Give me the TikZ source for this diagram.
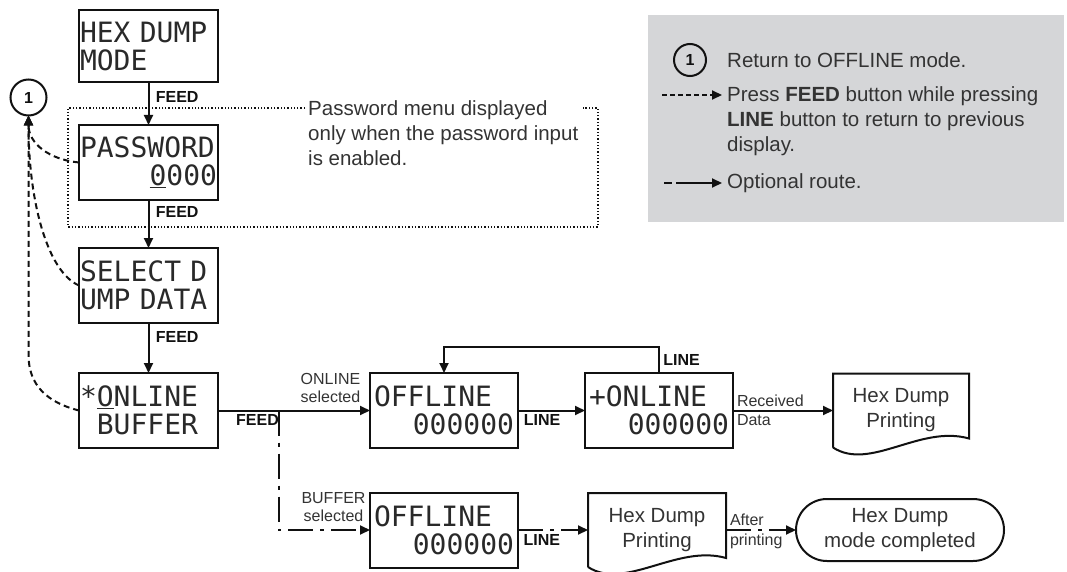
\documentclass[tikz,border=0pt]{standalone}
\usepackage{fontspec}
\setmainfont{Liberation Sans}
\newfontfamily\lcdfont{DejaVu Sans Mono}
\usetikzlibrary{positioning,arrows.meta,shapes.misc,calc}
\definecolor{ink}{HTML}{111111}
\definecolor{txt}{HTML}{333333}
\definecolor{keygrey}{HTML}{D5D6D8}

\newcommand{\bigtext}{\fontsize{20.5}{25}\selectfont}
\newcommand{\smalltext}{\fontsize{16}{18}\selectfont}
\newcommand{\lcdtext}{\lcdfont\fontsize{28}{28}\selectfont}
\newcommand{\rpart}[1]{\hspace*{\stretch{1}}#1}

\begin{document}
\begin{tikzpicture}[
  x=1pt, y=-1pt,
  lcd/.style={draw=ink, line width=2pt, outer sep=0pt, minimum width=139pt, minimum height=75pt, text width=137pt, align=left, inner sep=0pt, font=\lcdtext, text=ink!90},
  wide/.style={lcd, minimum width=148pt, text width=140pt},
  paper/.style={outer sep=0pt, minimum width=136pt, minimum height=74pt, align=center, font=\bigtext, text=txt, inner sep=0pt},
  term/.style={rounded rectangle, draw=ink, line width=2pt, outer sep=0pt, minimum width=208pt, minimum height=62pt, align=center, font=\bigtext, text=txt, inner sep=0pt},
  key/.style={font=\smalltext\bfseries, text=ink},
  tag/.style={font=\smalltext, text=txt, align=center, inner sep=3pt},
  arrow/.style={-{Triangle[length=10pt,width=9pt]}, line width=2pt, ink},
  back/.style={arrow, dash pattern=on 6pt off 4pt},
  optional/.style={arrow, dash pattern=on 25pt off 7pt on 4pt off 7pt},
  circ/.style={circle, draw=ink, line width=2pt, outer sep=0pt, minimum size=36pt, inner sep=0pt, font=\smalltext\bfseries, text=ink}
]
  \useasboundingbox (0,0) rectangle (1067,572);

  % legend
  \node[fill=keygrey, minimum width=416pt, minimum height=207pt, anchor=north west, inner sep=0pt] (keybox) at (648,15) {};
  \node[circ, minimum size=32pt] (k1) at (690,60) {1};
  \node[font=\bigtext, text=txt, anchor=west, inner sep=0pt] (k1t) at (727,60) {Return to OFFLINE mode.};
  \node[font=\bigtext, text=txt, anchor=west, align=left, inner sep=0pt] (k2t) at (727,121) {Press \textbf{FEED} button while pressing\\\textbf{LINE} button to return to previous\\display.};
  \node[font=\bigtext, text=txt, anchor=west, inner sep=0pt] (k3t) at (727,183) {Optional route.};
  \coordinate (k2a) at (662,95);
  \coordinate (k2b) at (722,95);
  \coordinate (k3a) at (664,183);
  \coordinate (k3b) at (722,183);
  \draw[back, dash pattern=on 5pt off 3pt] (k2a) -- (k2b);
  \draw[optional, dash pattern=on 8pt off 4pt on 60pt off 4pt] (k3a) -- (k3b);

  % display column
  \node[lcd, minimum height=72pt] (hex) at (148.5,46) {HEX DUMP\\MODE};
  \node[lcd, below=43pt of hex] (pw) {PASSWORD\\\rpart{\underline{0}000}};
  \node[lcd, below=48pt of pw] (sel) {SELECT D\\UMP DATA};
  \node[lcd, below=50pt of sel] (onl) {*\underline{O}NLINE\\\phantom{*}BUFFER};

  % password frame
  \node[font=\bigtext, text=txt, anchor=west, align=left, inner sep=0pt] (pwnote) at (308,133) {Password menu displayed\\only when the password input\\is enabled.};
  \draw[dotted, line width=1.3pt, ink] (305,108) -- (68,108) -- (68,227) -- (598,227) -- (598,108) -- (583,108);

  \draw[arrow] (hex) -- node[key, right, xshift=3pt, pos=0.35] {FEED} (pw);
  \draw[arrow] (pw) -- node[key, right, xshift=3pt, pos=0.25] {FEED} (sel);
  \draw[arrow] (sel) -- node[key, right, xshift=3pt, pos=0.28] {FEED} (onl);

  % back to offline
  \node[circ] (ret) at (28.5,97.5) {1};
  \coordinate (bend) at (28.5,355);
  \draw[back] (pw.west) .. controls +(-30,-3) and +(0,28) .. (ret.south);
  \draw[back] (sel.west) .. controls +(-32,-14) and +(0,85) .. (ret.south);
  \draw[back] (onl.west) .. controls +(-32,-8) and +(0,30) .. (bend) -- (ret.south);

  % online route
  \node[wide, right=152pt of onl] (off1) {OFFLINE\\\rpart{000000}};
  \node[wide, right=67pt of off1] (onl2) {+ONLINE\\\rpart{000000}};
  \node[paper, right=100pt of onl2] (prt1) {Hex Dump\\Printing};

  % buffer route
  \node[wide, below=44.5pt of off1] (off2) {OFFLINE\\\rpart{000000}};
  \node[paper, minimum width=138pt, right=70pt of off2] (prt2) {Hex Dump\\Printing};
  \node[term, right=70pt of prt2] (done) {Hex Dump\\mode completed};

  \foreach \p in {prt1,prt2}
    \draw[line width=2pt, ink] (\p.south west) -- (\p.north west) -- (\p.north east) -- ([yshift=9pt]\p.south east) .. controls +(-49,-14) and +(37,24) .. (\p.south west);

  \draw[arrow] (onl) -- node[key, below, pos=0.26] {FEED} node[tag, above=4pt, pos=0.74] {ONLINE\\selected} (off1);
  \coordinate (fork) at ($(onl.east)!0.4!(off1.west)$);
  \draw[optional] (fork) |- node[tag, above=4pt, pos=0.8] {BUFFER\\selected} (off2);
  \draw[arrow] (off1) -- node[key, below, pos=0.36] {LINE} (onl2);
  \draw[arrow] (onl2.north) -- node[key, right] {LINE} ++(0,-26) -| (off1.north);
  \draw[arrow] (onl2) -- node[tag, above right, pos=0] {Received} node[tag, below right, pos=0] {Data} (prt1);
  \draw[optional] (off2) -- node[key, below, pos=0.34] {LINE} (prt2);
  \draw[optional] (prt2) -- node[tag, above right, pos=0] {After} node[tag, below right, pos=0] {printing} (done);
\end{tikzpicture}
\end{document}
